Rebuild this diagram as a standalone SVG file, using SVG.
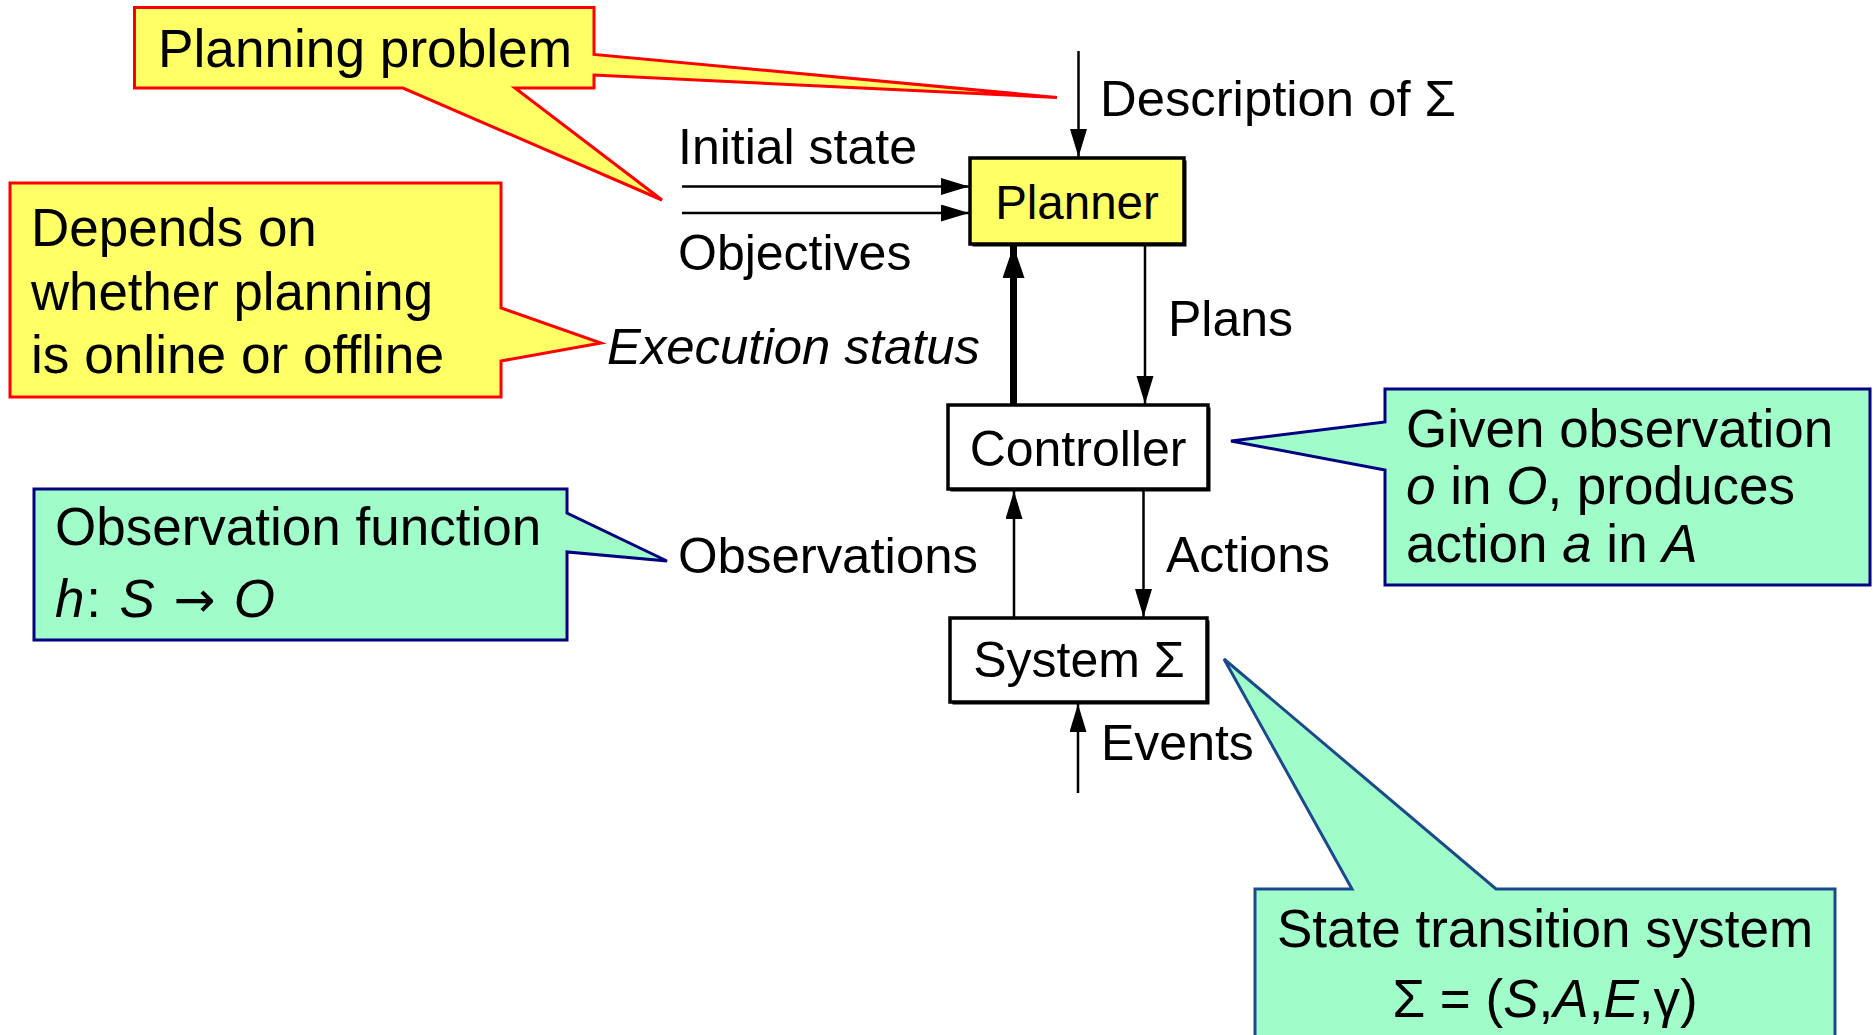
<svg xmlns="http://www.w3.org/2000/svg" width="1873" height="1035" viewBox="0 0 1873 1035">
  <style>
    text { font-family: "Liberation Sans", Arial, sans-serif; fill: #000; }
    .lbl { font-size: 50px; }
    .note { font-size: 53px; }
    .it { font-style: italic; }
    .sym { font-family: "DejaVu Sans", sans-serif; font-size: 50px; }
    .box { stroke: #000; stroke-width: 3.5; }
    .shadow { fill: #000; }
    .yellow { fill: #ffff66; }
    .white { fill: #fff; }
    .callout-red { fill: #ffff66; stroke: #ff0000; stroke-width: 3; stroke-linejoin: miter; }
    .callout-green { fill: #a0fcc9; stroke: #000080; stroke-width: 3; stroke-linejoin: miter; }
    .callout-blue { fill: #a0fcc9; stroke: #1b4a8c; stroke-width: 3; stroke-linejoin: miter; }
    .wire { stroke: #000; stroke-width: 2.5; fill: none; marker-end: url(#head); }
    .wire-bold { stroke: #000; stroke-width: 7; fill: none; marker-end: url(#head-bold); }
  </style>
  <defs>
    <marker id="head" markerUnits="userSpaceOnUse" markerWidth="30" markerHeight="18" refX="28" refY="8.5" orient="auto">
      <path d="M0,0 L28,8.5 L0,17 Z" fill="#000"/>
    </marker>
    <marker id="head-bold" markerUnits="userSpaceOnUse" markerWidth="34" markerHeight="24" refX="32" refY="11" orient="auto">
      <path d="M0,0 L32,11 L0,22 Z" fill="#000"/>
    </marker>
  </defs>

  <rect width="1873" height="1035" fill="#fff"/>

  <!-- callout: planning problem (two pointers) -->
  <g id="note-planning-problem">
    <path class="callout-red" d="M134.5,7.5 H594 V54.5 L1057,97.5 L594,75 V88 H515 L662,200 L403,88 H134.5 Z"/>
    <text class="note" x="158" y="67" textLength="414" lengthAdjust="spacingAndGlyphs">Planning problem</text>
  </g>

  <!-- callout: online / offline -->
  <g id="note-online-offline">
    <path class="callout-red" d="M10,183 H501 V308 L601,343 L501,361 V397 H10 Z"/>
    <text class="note" x="31" y="246">Depends on</text>
    <text class="note" x="31" y="310" textLength="402" lengthAdjust="spacingAndGlyphs">whether planning</text>
    <text class="note" x="31" y="373" textLength="413" lengthAdjust="spacingAndGlyphs">is online or offline</text>
  </g>

  <!-- callout: observation function -->
  <g id="note-observation-function">
    <path class="callout-green" d="M34,489 H567 V513 L667,561 L567,552 V640 H34 Z"/>
    <text class="note" x="55" y="545">Observation function</text>
    <text class="note" x="55" y="617" textLength="220" lengthAdjust="spacing"><tspan class="it">h</tspan>: <tspan class="it">S</tspan> <tspan class="sym">→</tspan> <tspan class="it">O</tspan></text>
  </g>

  <!-- callout: controller behaviour -->
  <g id="note-controller">
    <path class="callout-green" d="M1385,389 H1870 V585 H1385 V470 L1231,441 L1385,422 Z"/>
    <text class="note" x="1406" y="447">Given observation</text>
    <text class="note" x="1406" y="504"><tspan class="it">o</tspan> in <tspan class="it">O</tspan>, produces</text>
    <text class="note" x="1406" y="562">action <tspan class="it">a</tspan> in <tspan class="it">A</tspan></text>
  </g>

  <!-- callout: state transition system -->
  <g id="note-state-transition">
    <path class="callout-blue" d="M1255,889 H1352 L1224,659 L1496,889 H1835 V1050 H1255 Z"/>
    <text class="note" x="1545" y="947" text-anchor="middle">State transition system</text>
    <text class="note" x="1545" y="1017" text-anchor="middle">Σ = (<tspan class="it">S</tspan>,<tspan class="it">A</tspan>,<tspan class="it">E</tspan>,γ)</text>
  </g>

  <!-- connectors -->
  <g id="connectors">
    <line class="wire" x1="1078.5" y1="51" x2="1078.5" y2="157"/>
    <line class="wire" x1="682" y1="186.5" x2="969" y2="186.5"/>
    <line class="wire" x1="682" y1="213" x2="969" y2="213"/>
    <line class="wire" x1="1145" y1="245" x2="1145" y2="404"/>
    <line class="wire-bold" x1="1013.5" y1="404" x2="1013.5" y2="246"/>
    <line class="wire" x1="1014" y1="617" x2="1014" y2="491"/>
    <line class="wire" x1="1143.5" y1="491" x2="1143.5" y2="617"/>
    <line class="wire" x1="1078" y1="793" x2="1078" y2="704"/>

    <text class="lbl" x="1100" y="116" textLength="356" lengthAdjust="spacingAndGlyphs">Description of Σ</text>
    <text class="lbl" x="678" y="164">Initial state</text>
    <text class="lbl" x="678" y="270">Objectives</text>
    <text class="lbl" x="1168" y="336">Plans</text>
    <text class="lbl it" x="607" y="364" textLength="373" lengthAdjust="spacingAndGlyphs">Execution status</text>
    <text class="lbl" x="678" y="573" textLength="300" lengthAdjust="spacingAndGlyphs">Observations</text>
    <text class="lbl" x="1166" y="572">Actions</text>
    <text class="lbl" x="1101" y="760">Events</text>
  </g>

  <!-- planner -->
  <g id="planner">
    <rect class="shadow" x="972.5" y="160.5" width="214" height="86"/>
    <rect class="box yellow" x="970" y="158" width="214" height="86"/>
    <text x="1077" y="219" text-anchor="middle" style="font-size:47.5px">Planner</text>
  </g>

  <!-- controller -->
  <g id="controller">
    <rect class="shadow" x="950.5" y="407.5" width="260" height="84"/>
    <rect class="box white" x="948" y="405" width="260" height="84"/>
    <text class="lbl" x="1078" y="466" text-anchor="middle">Controller</text>
  </g>

  <!-- system -->
  <g id="system">
    <rect class="shadow" x="952.5" y="620.5" width="257" height="84"/>
    <rect class="box white" x="950" y="618" width="257" height="84"/>
    <text class="lbl" x="1079" y="677" text-anchor="middle">System Σ</text>
  </g>
</svg>
